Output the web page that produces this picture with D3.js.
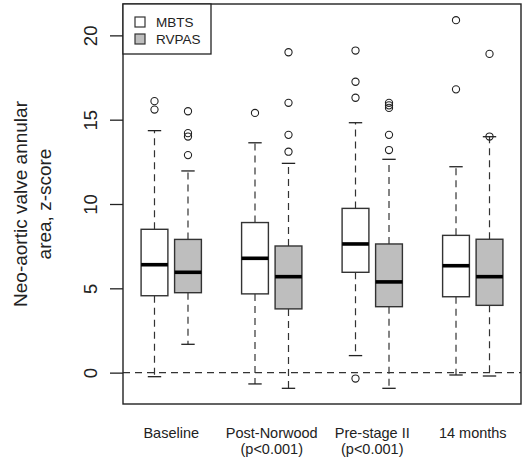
<!DOCTYPE html>
<html>
<head>
<meta charset="utf-8">
<script src="https://cdn.jsdelivr.net/npm/d3@7"></script>
<style>
  body { margin: 0; background: #fff; }
  svg text { font-family: Arial, "Liberation Sans", sans-serif; fill: #222; }
</style>
</head>
<body>
<svg width="525" height="462"></svg>
<script>
// data
var groups = ["Baseline", "Post-Norwood", "Pre-stage II", "14 months"];
var pLabels = ["", "(p<0.001)", "(p<0.001)", ""];
var series = ["MBTS", "RVPAS"];
var seriesFill = ["#ffffff", "#bebebe"];
// [lower whisker, q1, median, q3, upper whisker]
var mbtsStats = [
  [-0.24, 4.56, 6.40, 8.50, 14.35],
  [-0.67, 4.67, 6.78, 8.90, 13.63],
  [1.01, 5.95, 7.63, 9.74, 14.82],
  [-0.14, 4.50, 6.34, 8.14, 12.21]
];
var rvpasStats = [
  [1.68, 4.74, 5.95, 7.90, 11.96],
  [-0.93, 3.78, 5.69, 7.51, 12.41],
  [-0.93, 3.91, 5.38, 7.63, 12.65],
  [-0.20, 3.99, 5.69, 7.91, 13.99]
];
var mbtsOutliers = [[16.1, 15.6], [15.4], [19.1, 17.25, 16.3, -0.35], [20.9, 16.8]];
var rvpasOutliers = [[15.5, 14.2, 14.0, 12.9], [19.0, 16.0, 14.1, 13.1], [16.0, 15.85, 15.7, 14.1, 13.2], [18.9, 14.0]];
var yTicks = [0, 5, 10, 15, 20];

var svg = d3.select("svg");
var plotL = 123, plotR = 521, plotT = 4, plotB = 404;

var x = d3.scaleLinear().domain([0.06, 11.94]).range([plotL, plotR]);
var y = d3.scaleLinear().domain([-1.86, 21.86]).range([plotB, plotT]);

// build boxes: positions 1,2 / 4,5 / 7,8 / 10,11
var boxes = [];
groups.forEach(function(g, i) {
  [mbtsStats, rvpasStats].forEach(function(st, s) {
    boxes.push({
      pos: i * 3 + 1 + s,
      s: s,
      stats: st[i],
      out: (s === 0 ? mbtsOutliers : rvpasOutliers)[i]
    });
  });
});

var bw = 0.4, cw = 0.2;

// reference line at zero
svg.append("line")
  .attr("x1", plotL).attr("x2", plotR)
  .attr("y1", y(0)).attr("y2", y(0))
  .attr("stroke", "#333").attr("stroke-width", 1.2)
  .attr("stroke-dasharray", "7,5");

var bx = svg.append("g").selectAll("g")
  .data(boxes)
  .enter().append("g");

// whiskers
bx.append("line")
  .attr("x1", function(d) { return x(d.pos); })
  .attr("x2", function(d) { return x(d.pos); })
  .attr("y1", function(d) { return y(d.stats[1]); })
  .attr("y2", function(d) { return y(d.stats[0]); })
  .attr("stroke", "#333").attr("stroke-width", 1.2)
  .attr("stroke-dasharray", "7,5");
bx.append("line")
  .attr("x1", function(d) { return x(d.pos); })
  .attr("x2", function(d) { return x(d.pos); })
  .attr("y1", function(d) { return y(d.stats[3]); })
  .attr("y2", function(d) { return y(d.stats[4]); })
  .attr("stroke", "#333").attr("stroke-width", 1.2)
  .attr("stroke-dasharray", "7,5");

// staples
[0, 4].forEach(function(k) {
  bx.append("line")
    .attr("x1", function(d) { return x(d.pos - cw); })
    .attr("x2", function(d) { return x(d.pos + cw); })
    .attr("y1", function(d) { return y(d.stats[k]); })
    .attr("y2", function(d) { return y(d.stats[k]); })
    .attr("stroke", "#222").attr("stroke-width", 1.3);
});

// box
bx.append("rect")
  .attr("x", function(d) { return x(d.pos - bw); })
  .attr("width", function(d) { return x(d.pos + bw) - x(d.pos - bw); })
  .attr("y", function(d) { return y(d.stats[3]); })
  .attr("height", function(d) { return y(d.stats[1]) - y(d.stats[3]); })
  .attr("fill", function(d) { return seriesFill[d.s]; })
  .attr("stroke", "#333").attr("stroke-width", 1.4);

// median
bx.append("line")
  .attr("x1", function(d) { return x(d.pos - bw); })
  .attr("x2", function(d) { return x(d.pos + bw); })
  .attr("y1", function(d) { return y(d.stats[2]); })
  .attr("y2", function(d) { return y(d.stats[2]); })
  .attr("stroke", "#000").attr("stroke-width", 3.6);

// outliers
bx.selectAll("circle")
  .data(function(d) { return d.out.map(function(v) { return {pos: d.pos, v: v}; }); })
  .enter().append("circle")
  .attr("cx", function(d) { return x(d.pos); })
  .attr("cy", function(d) { return y(d.v); })
  .attr("r", 3.6)
  .attr("fill", "none")
  .attr("stroke", "#222").attr("stroke-width", 1.1);

// frame
svg.append("rect")
  .attr("x", plotL).attr("y", plotT)
  .attr("width", plotR - plotL).attr("height", plotB - plotT)
  .attr("fill", "none").attr("stroke", "#222").attr("stroke-width", 1.4);

// y axis
var yAxis = svg.append("g")
  .attr("transform", "translate(" + plotL + ",0)")
  .call(d3.axisLeft(y).tickValues(yTicks).tickSize(13).tickFormat(d3.format("d")));
yAxis.select(".domain").remove();
yAxis.selectAll(".tick line").attr("stroke", "#222").attr("stroke-width", 1.3);
yAxis.selectAll(".tick text")
  .attr("x", null).attr("dy", null)
  .attr("transform", "translate(-26,0) rotate(-90)")
  .attr("text-anchor", "middle")
  .attr("fill", "#222")
  .style("font-size", "18.5px");

// y label
var ylab = svg.append("text")
  .attr("transform", "translate(0," + ((plotT + plotB) / 2) + ") rotate(-90)")
  .attr("text-anchor", "middle")
  .style("font-size", "19px");
ylab.append("tspan").attr("x", 0).attr("y", 27).text("Neo-aortic valve annular");
ylab.append("tspan").attr("x", 0).attr("y", 51).text("area, z-score");

// x labels
var gx = svg.append("g").selectAll("text")
  .data(groups)
  .enter().append("text")
  .attr("text-anchor", "middle")
  .style("font-size", "14.5px");
gx.append("tspan")
  .attr("x", function(d, i) { return x(i * 3 + 1.5); })
  .attr("y", 438)
  .text(function(d) { return d; });
gx.append("tspan")
  .attr("x", function(d, i) { return x(i * 3 + 1.5); })
  .attr("y", 454)
  .text(function(d, i) { return pLabels[i]; });

// legend
var lg = svg.append("g");
lg.append("rect")
  .attr("x", plotL).attr("y", plotT)
  .attr("width", 88).attr("height", 50)
  .attr("fill", "#fff").attr("stroke", "#222").attr("stroke-width", 1.3);
var li = lg.selectAll("g.item")
  .data(series)
  .enter().append("g").attr("class", "item")
  .attr("transform", function(d, i) { return "translate(0," + (22 + i * 17) + ")"; });
li.append("rect")
  .attr("x", 135).attr("y", -5)
  .attr("width", 10).attr("height", 10)
  .attr("fill", function(d, i) { return seriesFill[i]; })
  .attr("stroke", "#333").attr("stroke-width", 1.2);
li.append("text")
  .attr("x", 156).attr("y", 5)
  .style("font-size", "13.5px")
  .text(function(d) { return d; });
</script>
</body>
</html>
